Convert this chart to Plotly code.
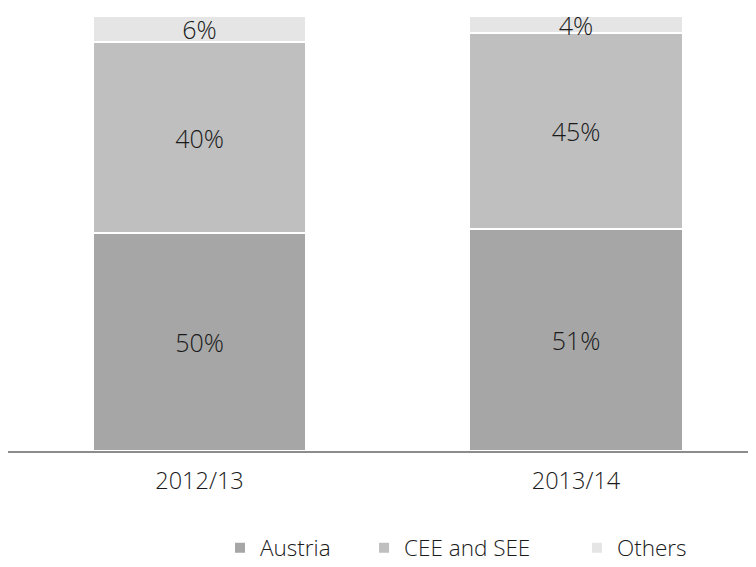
import plotly.graph_objects as go

years = ["2012/13", "2013/14"]
series_names = ["Austria", "CEE and SEE", "Others"]
austria = [50, 51]
cee_see = [44, 45]
others = [6, 4]
austria_labels = ["50%", "51%"]
cee_see_labels = ["40%", "45%"]
others_labels = ["6%", "4%"]
colors = ["#A6A6A6", "#BFBFBF", "#E5E5E5"]

FONT = "Open Sans, Liberation Sans, sans-serif"
TXT = "#1A1A1A"

legend_ids = ["legend", "legend2", "legend3"]
legend_x = [0.2834, 0.476, 0.7607]

fig = go.Figure()
for name, vals, labels, col, lg in zip(series_names,
                                       [austria, cee_see, others],
                                       [austria_labels, cee_see_labels, others_labels],
                                       colors, legend_ids):
    fig.add_trace(go.Bar(
        x=years, y=vals, name=name, text=labels,
        textposition="inside", insidetextanchor="middle",
        constraintext="none", textangle=0,
        textfont=dict(family=FONT, size=25, color=TXT, weight=300),
        marker=dict(color=col, line=dict(color="white", width=2)),
        width=0.566, hoverinfo="skip", legend=lg,
    ))

legend_common = dict(
    orientation="h", xanchor="left", y=-0.219, yanchor="middle",
    font=dict(family=FONT, size=22.5, color=TXT, weight=300),
    itemwidth=30, bgcolor="rgba(0,0,0,0)",
)

fig.update_layout(
    barmode="stack",
    width=748, height=559,
    margin=dict(l=0, r=0, t=0, b=116, autoexpand=False),
    plot_bgcolor="white", paper_bgcolor="white",
    font=dict(family=FONT, color=TXT),
    xaxis=dict(
        type="category", range=[-0.5086, 1.478],
        showline=True, linecolor="#8C8C8C", linewidth=2,
        ticks="outside", ticklen=8, tickcolor="rgba(0,0,0,0)",
        tickfont=dict(family=FONT, size=23.5, color=TXT, weight=300),
        showgrid=False, zeroline=False, automargin=False,
    ),
    yaxis=dict(range=[0, 101.8], visible=False, showgrid=False, zeroline=False),
    legend=dict(x=legend_x[0], **legend_common),
    legend2=dict(x=legend_x[1], **legend_common),
    legend3=dict(x=legend_x[2], **legend_common),
    showlegend=True,
)

fig.write_html("out.html")
